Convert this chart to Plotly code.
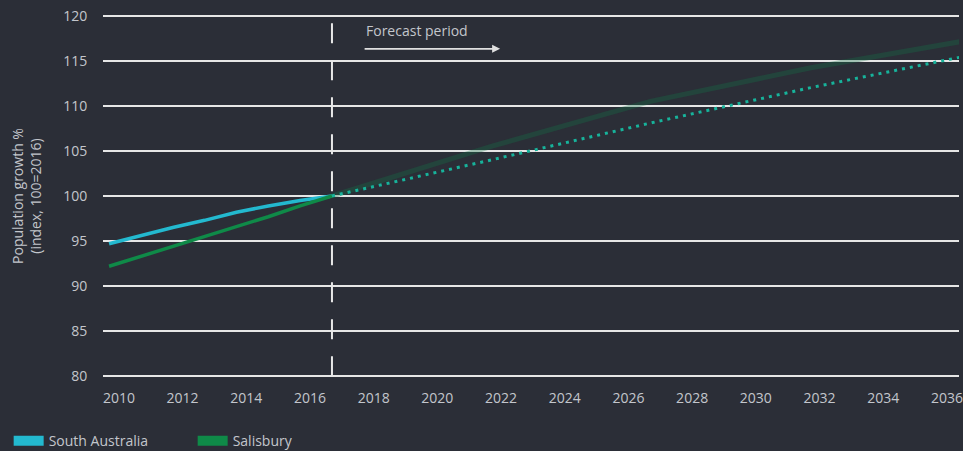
import plotly.graph_objects as go

# ---- data ----
hist_years = [2009, 2010, 2011, 2012, 2013, 2014, 2015, 2016]
sa_hist = [94.7, 95.6, 96.5, 97.3, 98.2, 98.9, 99.5, 100.0]
sal_hist = [92.2, 93.3, 94.4, 95.5, 96.6, 97.7, 98.9, 100.0]

fc_years = [2016, 2021, 2026, 2031, 2036]
sa_fc = [100.0, 104.0, 108.1, 112.0, 115.6]
sal_fc = [100.0, 105.5, 110.5, 114.2, 117.3]

tick_years = [2010, 2012, 2014, 2016, 2018, 2020, 2022, 2024, 2026, 2028, 2030, 2032, 2034, 2036]
tick_labels = [str(y) for y in tick_years]
y_ticks = [80, 85, 90, 95, 100, 105, 110, 115, 120]
forecast_start = 2016

# label offset used by the original artwork (labels sit left of the data year)
LABEL_SHIFT = -0.69

BG = "#2b2e37"
TXT = "#c3c6cc"
SA_COL = "#23b9cf"
SAL_COL = "#0f8a48"
FC_COL = "#17b39b"
FONT = "Open Sans"
FS = 14

fig = go.Figure()

fig.add_trace(go.Scatter(x=fc_years, y=sal_fc, mode="lines",
                         line=dict(color="rgba(18,115,70,0.32)", width=5),
                         showlegend=False, hoverinfo="skip"))
fig.add_trace(go.Scatter(x=fc_years, y=sa_fc, mode="lines",
                         line=dict(color=FC_COL, width=3, dash="3px,5px"),
                         showlegend=False, hoverinfo="skip"))
fig.add_trace(go.Scatter(x=hist_years, y=sa_hist, mode="lines",
                         line=dict(color=SA_COL, width=3.5),
                         showlegend=False))
fig.add_trace(go.Scatter(x=hist_years, y=sal_hist, mode="lines",
                         line=dict(color=SAL_COL, width=3.5),
                         showlegend=False))

# legend entries
fig.add_trace(go.Scatter(x=[None], y=[None], mode="lines", name="South Australia",
                         line=dict(color=SA_COL, width=10)))
fig.add_trace(go.Scatter(x=[None], y=[None], mode="lines", name="Salisbury",
                         line=dict(color=SAL_COL, width=10)))

# forecast start dashed line
fig.add_shape(type="line", xref="x", yref="y", x0=forecast_start, x1=forecast_start,
              y0=80, y1=120.35, line=dict(color="#e8e8e8", width=2, dash="20px,17px"),
              layer="above")

fig.add_annotation(x=forecast_start + 1, y=118.35, xref="x", yref="y",
                   text="Forecast period", showarrow=False, xanchor="left",
                   font=dict(family=FONT, size=FS, color=TXT))
fig.add_annotation(x=forecast_start + 5.28, y=116.33, xref="x", yref="y",
                   ax=-137, ay=0, text="", showarrow=True, arrowhead=2,
                   arrowsize=1, arrowwidth=1.6, arrowcolor="#e0e0e0")

fig.update_layout(
    width=963, height=451,
    paper_bgcolor=BG, plot_bgcolor=BG,
    margin=dict(l=103, r=0, t=14.2, b=73.2),
    font=dict(family=FONT, size=FS, color=TXT),
    showlegend=True,
    legend=dict(orientation="h", xref="container", yref="container",
                x=0.009, y=0.022, xanchor="left", yanchor="middle",
                font=dict(family=FONT, size=FS, color=TXT),
                itemwidth=30, entrywidth=139, bgcolor="rgba(0,0,0,0)"),
    xaxis=dict(range=[2008.81, 2035.69], tickvals=[y + LABEL_SHIFT for y in tick_years],
               ticktext=tick_labels, showgrid=False, zeroline=False, showline=False,
               ticks="outside", ticklen=7, tickcolor=BG, ticklabeloverflow="allow",
               tickfont=dict(family=FONT, size=FS, color=TXT)),
    yaxis=dict(range=[79.8, 120.2], tickvals=y_ticks, showgrid=True,
               gridcolor="#e6e6e6", gridwidth=2, zeroline=False, showline=False,
               ticks="outside", ticklen=12, tickcolor=BG,
               title=dict(text="Population growth %<br>(index, 100=2016)",
                          font=dict(family=FONT, size=FS, color=TXT), standoff=18),
               tickfont=dict(family=FONT, size=FS, color=TXT)),
)

fig.write_html("out.html")
